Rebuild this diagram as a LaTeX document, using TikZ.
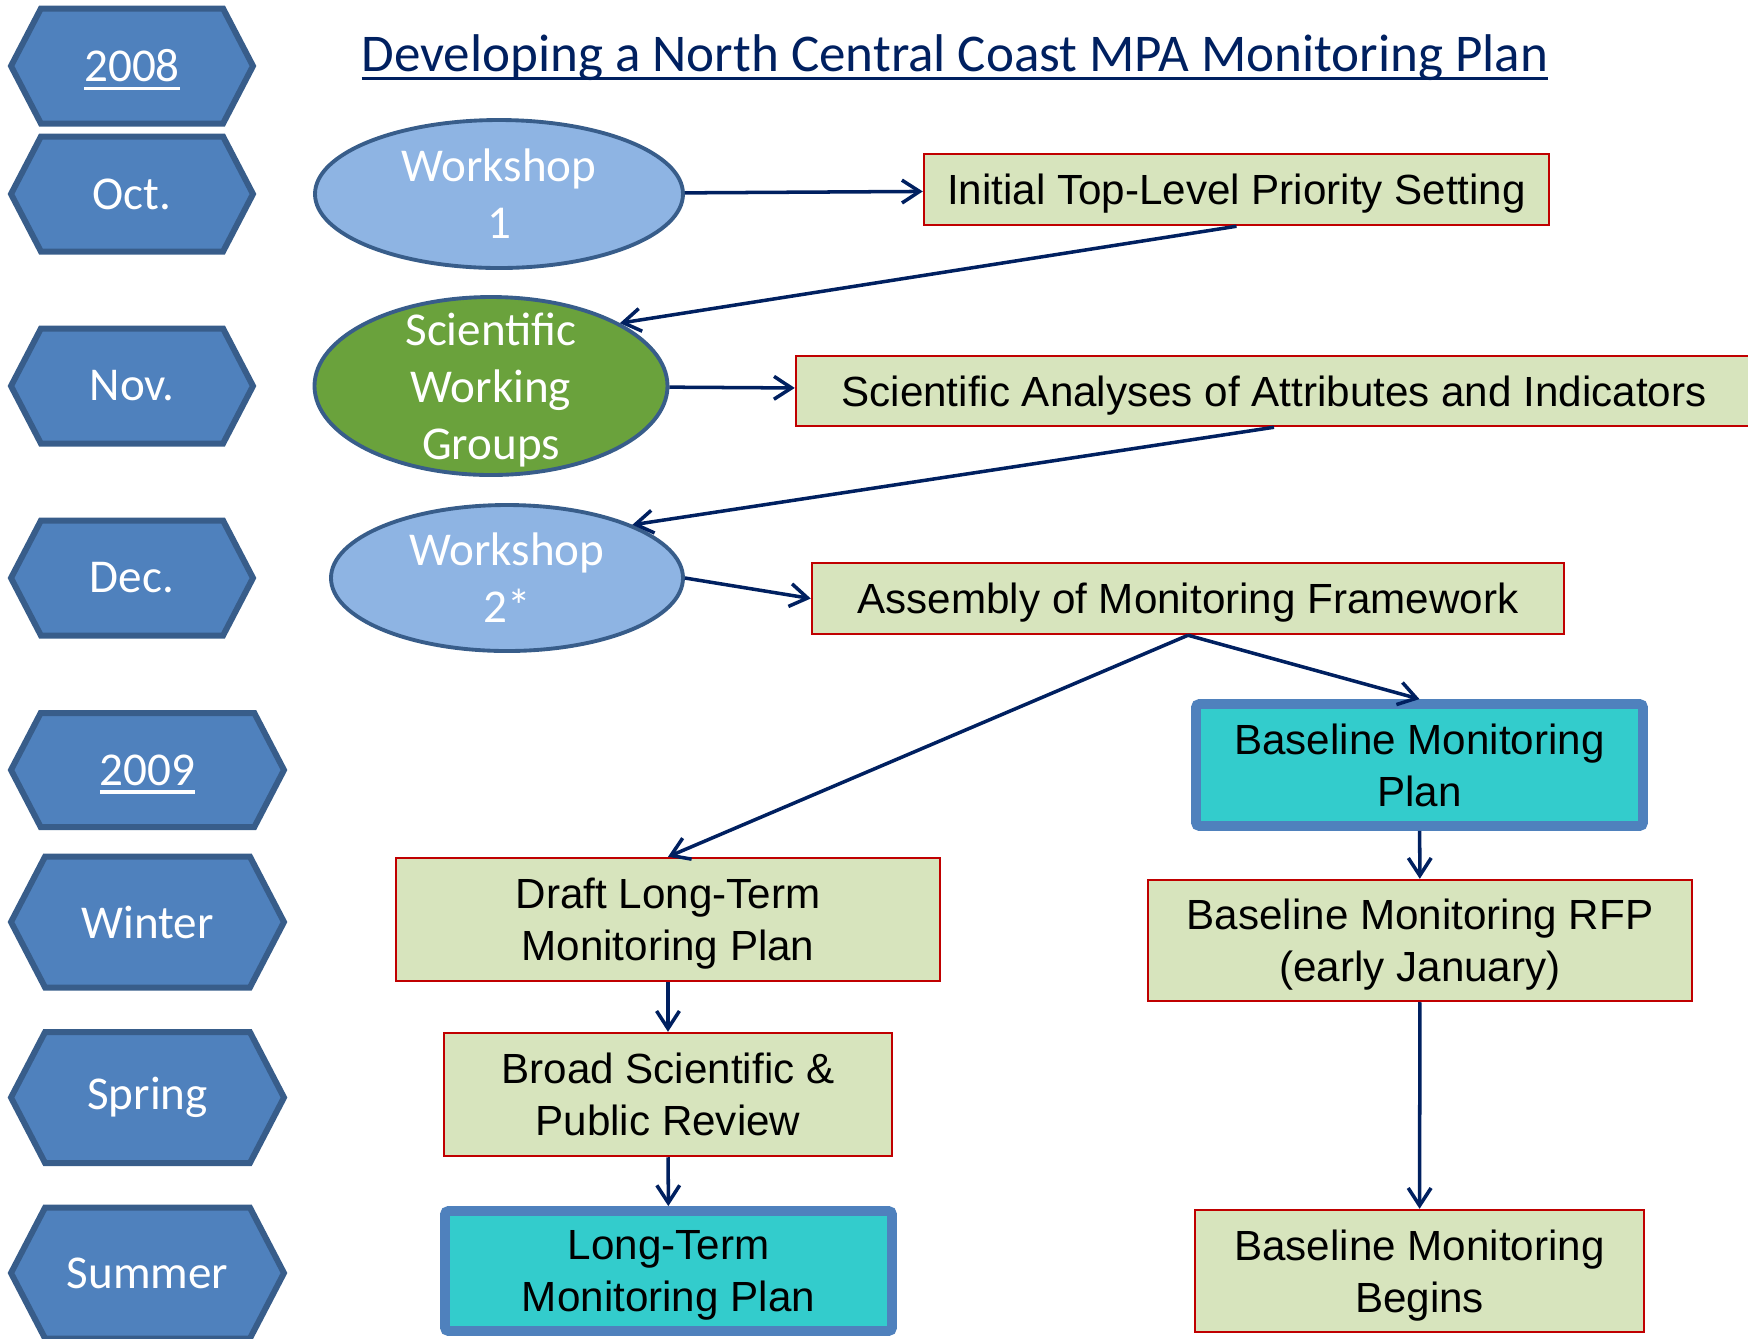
\documentclass[tikz,border=0pt]{standalone}
\usepackage{fontspec}
\setmainfont{Liberation Sans}
\newfontfamily\calibri{Carlito}
\usetikzlibrary{shapes.geometric,shapes.symbols,arrows.meta}

% underline a bit below the baseline
\newcommand\ulined[1]{\setbox0\hbox{#1}\rlap{\smash{\vrule height -1.5pt depth 2.4pt width \wd0}}\box0}

\definecolor{hexfill}{HTML}{4F81BD}
\definecolor{hexline}{HTML}{385D8A}
\definecolor{wsfill}{HTML}{8EB4E3}
\definecolor{swgfill}{HTML}{6AA23C}
\definecolor{taskfill}{HTML}{D7E4BD}
\definecolor{taskred}{HTML}{C00000}
\definecolor{planfill}{HTML}{33CCCC}
\definecolor{navy}{HTML}{002060}

\tikzset{
  month/.style={shape=signal, signal to=east and west, signal pointer angle=125,
    draw=hexline, line width=1.7pt, fill=hexfill, text=white, inner sep=0pt,
    font=\calibri\fontsize{13.4}{16}\selectfont},
  meeting/.style={ellipse, draw=hexline, line width=1.1pt, fill=wsfill, text=white,
    inner sep=0pt, align=center, font=\calibri\fontsize{13.4}{16.2}\selectfont},
  task/.style={rectangle, draw=taskred, line width=0.7pt, fill=taskfill, inner sep=0pt,
    align=center, text depth=0pt, font=\fontsize{12}{14.8}\selectfont},
  plan/.style={task, draw=hexfill, line width=2.8pt, fill=planfill, rounded corners=1pt},
  flow/.style={-{Straight Barb[length=5pt,width=6.5pt]}, draw=navy, line width=1pt}
}

\begin{document}
\begin{tikzpicture}
    \useasboundingbox (0,0) rectangle (17.48,-13.38);

    \node[text=navy, font=\calibri\fontsize{15.1}{18}\selectfont] (Title) at (9.55,-0.575) {\ulined{Developing a North Central Coast MPA Monitoring Plan}};

    % time line
    \node[month, minimum width=2.42cm, minimum height=1.15cm] (Y2008) at (1.32,-0.66) {\ulined{2008}};
    \node[month, minimum width=2.42cm, minimum height=1.15cm] (Oct) at (1.32,-1.94) {Oct.};
    \node[month, minimum width=2.42cm, minimum height=1.15cm] (Nov) at (1.32,-3.86) {Nov.};
    \node[month, minimum width=2.42cm, minimum height=1.15cm] (Dec) at (1.32,-5.78) {Dec.};
    \node[month, minimum width=2.73cm, minimum height=1.14cm] (Y2009) at (1.475,-7.70) {\ulined{2009}};
    \node[month, minimum width=2.73cm, minimum height=1.31cm] (Winter) at (1.475,-9.22) {Winter};
    \node[month, minimum width=2.73cm, minimum height=1.31cm] (Spring) at (1.475,-10.975) {Spring};
    \node[month, minimum width=2.73cm, minimum height=1.31cm] (Summer) at (1.475,-12.73) {Summer};

    % meetings
    \node[meeting, minimum width=3.68cm, minimum height=1.48cm] (Workshop1) at (4.99,-1.94) {Workshop\\1};
    \node[meeting, fill=swgfill, text depth=0pt, inner ysep=-3pt, minimum width=3.53cm, minimum height=1.78cm] (SWG) at (4.91,-3.86) {Scientific\\Working\\Groups};
    \node[meeting, minimum width=3.52cm, minimum height=1.46cm] (Workshop2) at (5.07,-5.78) {Workshop\\2*};

    % products
    \node[task, minimum width=6.25cm, minimum height=0.71cm] (Priority) at (12.365,-1.895) {Initial Top-Level Priority Setting};
    \node[task, minimum width=9.56cm, minimum height=0.70cm] (Analyses) at (12.74,-3.91) {Scientific Analyses of Attributes and Indicators};
    \node[task, minimum width=7.52cm, minimum height=0.71cm] (Framework) at (11.88,-5.985) {Assembly of Monitoring Framework};
    \node[plan, minimum width=4.47cm, minimum height=1.22cm] (BasePlan) at (14.195,-7.65) {Baseline Monitoring\\Plan};
    \node[task, minimum width=5.44cm, minimum height=1.21cm] (BaseRFP) at (14.20,-9.405) {Baseline Monitoring RFP\\(early January)};
    \node[task, minimum width=4.49cm, minimum height=1.22cm] (BaseBegins) at (14.195,-12.71) {Baseline Monitoring\\Begins};
    \node[task, minimum width=5.44cm, minimum height=1.23cm] (Draft) at (6.68,-9.195) {Draft Long-Term\\Monitoring Plan};
    \node[task, minimum width=4.48cm, minimum height=1.23cm] (Review) at (6.68,-10.945) {Broad Scientific \&\\Public Review};
    \node[plan, minimum width=4.47cm, minimum height=1.20cm] (LongPlan) at (6.685,-12.71) {Long-Term\\Monitoring Plan};

    \path (Workshop1) edge [flow] (Priority);
    \path (Priority.south) edge [flow] (SWG.26);
    \path (SWG) edge [flow] (Analyses);
    \path (Analyses.south) edge [flow] (Workshop2.23);
    \path (Workshop2.east) edge [flow] (Framework.west);
    \path (Framework.south) edge [flow] (Draft.north);
    \path (Framework.south) edge [flow] (BasePlan.north);
    \path (BasePlan) edge [flow] (BaseRFP);
    \path (BaseRFP) edge [flow] (BaseBegins);
    \path (Draft) edge [flow] (Review);
    \path (Review) edge [flow] (LongPlan);
\end{tikzpicture}
\end{document}
